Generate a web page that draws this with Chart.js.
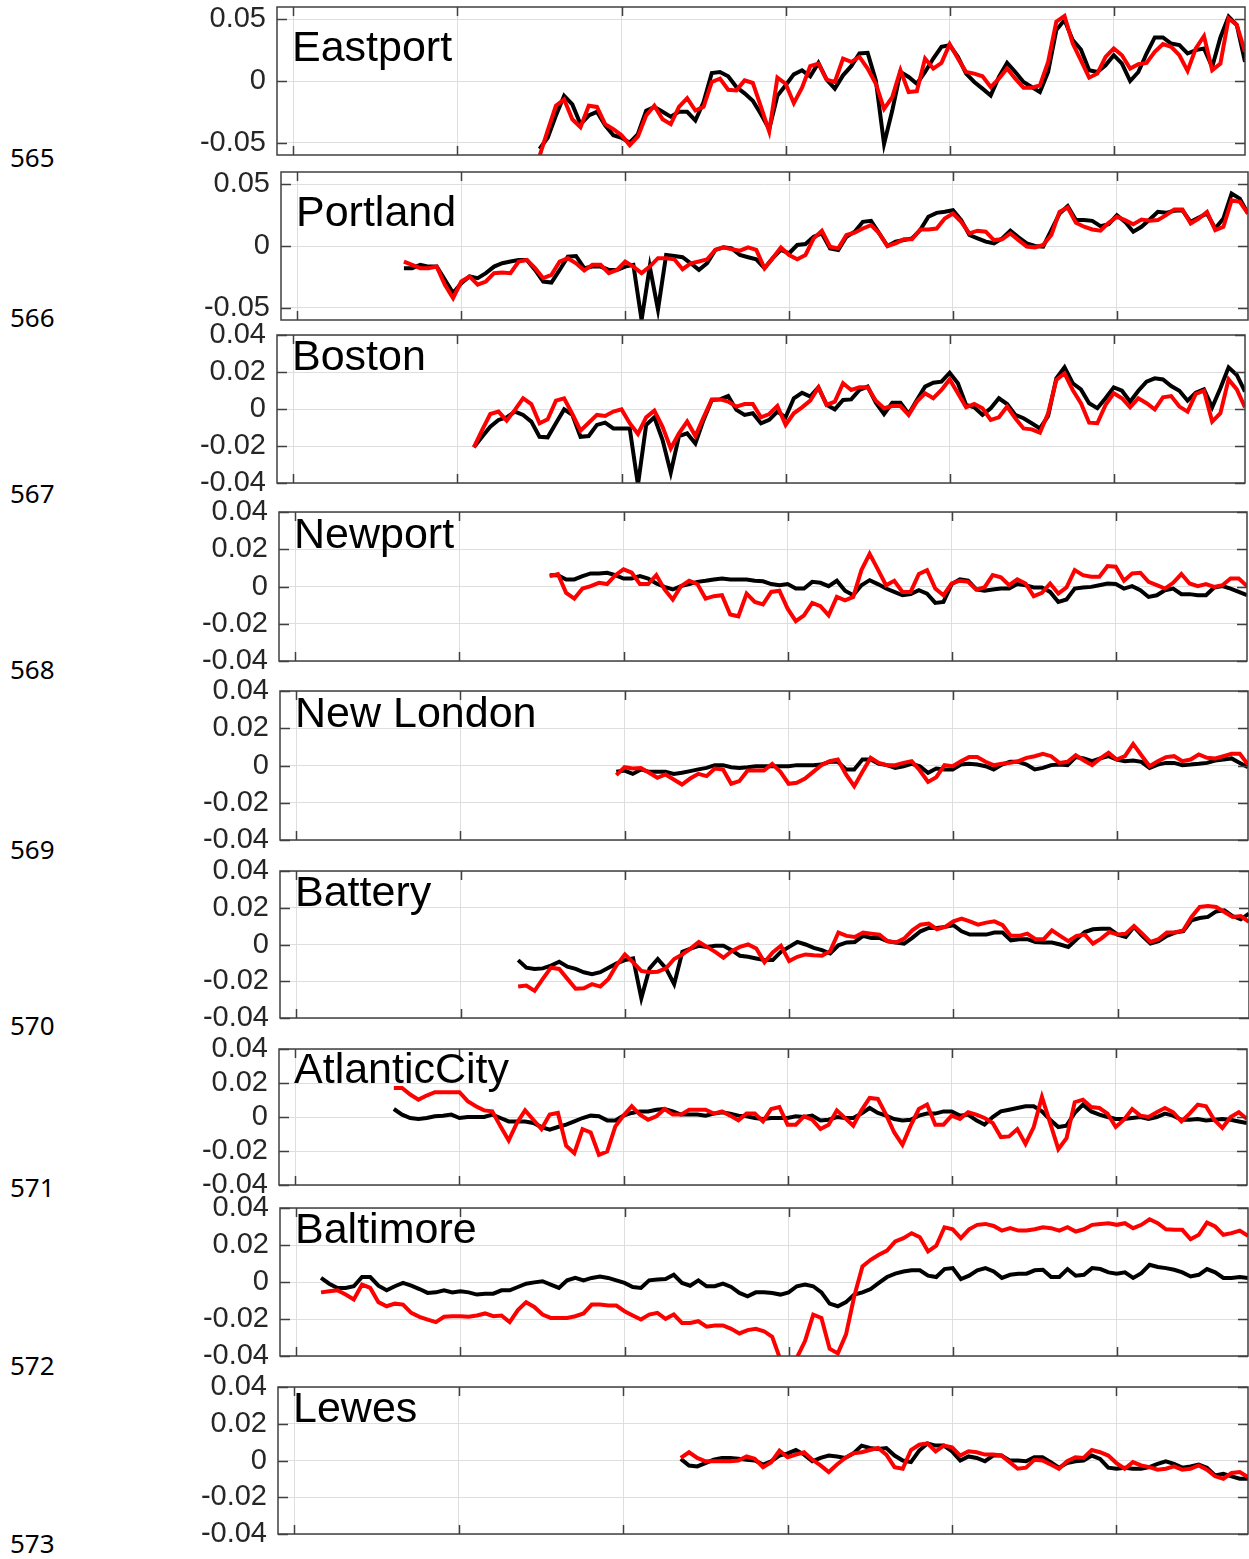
<!DOCTYPE html>
<html>
<head>
<meta charset="utf-8">
<script src="https://cdn.jsdelivr.net/npm/chart.js@4.4.0/dist/chart.umd.min.js"></script>
<style>
  html, body { margin: 0; padding: 0; background: #fff; }
  #page { position: relative; width: 1249px; height: 1559px; overflow: hidden; background: #fff; }
  .lineno { position: absolute; left: 10px; font: 26px "Noto Sans", "Open Sans", sans-serif; line-height: 26px; color: #000; }
</style>
</head>
<body>
<div id="page"></div>
<script>
// Axis ticks and grid
const xGridYears = [1900, 1920, 1940, 1960, 1980, 2000];
const ticksWide = [-0.05, 0, 0.05];
const ticksNarrow = [-0.04, -0.02, 0, 0.02, 0.04];

// Stations, top to bottom
const stationNames = ['Eastport', 'Portland', 'Boston', 'Newport', 'New London', 'Battery', 'AtlanticCity', 'Baltimore', 'Lewes'];
const startYears = [1930, 1913, 1922, 1931, 1939, 1927, 1912, 1903, 1947];
const lineNumbers = ['565', '566', '567', '568', '569', '570', '571', '572', '573'];

// Yearly values (black = first estimate, red = second estimate)
const eastportBlack = [-0.055, -0.046, -0.028, -0.012, -0.019, -0.035, -0.028, -0.025, -0.036, -0.044, -0.046, -0.050, -0.043, -0.024, -0.021, -0.025, -0.029, -0.025, -0.025, -0.032, -0.017, 0.0065, 0.0073, 0.0038, -0.0049, -0.010, -0.016, -0.027, -0.039, -0.012, -0.0035, 0.0054, 0.0087, 0.0038, 0.0147, 0.0011, -0.0062, 0.0046, 0.012, 0.0223, 0.0228, 0.0005, -0.051, -0.024, 0.0073, 0.0033, -0.0022, 0.0073, 0.0182, 0.0277, 0.0291, 0.0196, 0.006, -0.0008, -0.0062, -0.0117, 0.0033, 0.0147, 0.0073, -0.0008, -0.0049, -0.009, 0.0073, 0.0413, 0.0494, 0.0331, 0.0255, 0.0087, 0.0073, 0.0128, 0.0209, 0.0141, 0.0, 0.0073, 0.0223, 0.0353, 0.0353, 0.0304, 0.0291, 0.0223, 0.025, 0.0264, 0.0114, 0.0353, 0.0522, 0.0454, 0.0155];
const eastportRed = [-0.061, -0.040, -0.020, -0.015, -0.031, -0.0375, -0.020, -0.021, -0.035, -0.039, -0.044, -0.052, -0.045, -0.028, -0.020, -0.031, -0.035, -0.021, -0.014, -0.024, -0.021, -0.0008, 0.0019, -0.0071, -0.0076, 0.0005, -0.0016, -0.021, -0.041, 0.0027, -0.0022, -0.018, -0.0054, 0.012, 0.0141, 0.0011, -0.0008, 0.0182, 0.0155, 0.0196, 0.0101, -0.0022, -0.0226, -0.013, 0.0087, -0.009, -0.0082, 0.0182, 0.0101, 0.0147, 0.0299, 0.0182, 0.0073, 0.006, 0.0038, -0.0049, 0.0019, 0.0101, 0.0019, -0.0054, -0.0054, -0.0035, 0.0155, 0.0481, 0.0527, 0.0304, 0.0168, 0.0027, 0.006, 0.0196, 0.0264, 0.0209, 0.0101, 0.0136, 0.0147, 0.0236, 0.0299, 0.0277, 0.0209, 0.0082, 0.0264, 0.0364, 0.0087, 0.0141, 0.0508, 0.0454, 0.0236];

const portlandBlack = [-0.018, -0.018, -0.0153, -0.0167, -0.0167, -0.0274, -0.0382, -0.0301, -0.0247, -0.0261, -0.022, -0.0167, -0.014, -0.0126, -0.0113, -0.0113, -0.0194, -0.0288, -0.0296, -0.0194, -0.0086, -0.0081, -0.018, -0.0167, -0.0167, -0.0194, -0.0194, -0.0167, -0.0153, -0.060, -0.0167, -0.0516, -0.0073, -0.0081, -0.0091, -0.014, -0.0194, -0.014, -0.0032, -0.0011, -0.0019, -0.0073, -0.0091, -0.0108, -0.018, -0.0099, -0.0032, -0.0059, 0.0008, 0.0016, 0.0075, 0.0102, -0.0019, -0.0032, 0.0075, 0.0116, 0.0196, 0.0204, 0.0102, 0, 0.0035, 0.0048, 0.0062, 0.0129, 0.0237, 0.0269, 0.0277, 0.029, 0.021, 0.0089, 0.0062, 0.0035, 0.0022, 0.0062, 0.0124, 0.007, 0.0022, 0, -0.0005, 0.0129, 0.0263, 0.0323, 0.021, 0.021, 0.0204, 0.0161, 0.0177, 0.025, 0.0196, 0.0116, 0.0156, 0.0215, 0.0277, 0.0269, 0.0285, 0.029, 0.0196, 0.0231, 0.0263, 0.0142, 0.0223, 0.0425, 0.0384, 0.0263];
const portlandRed = [-0.0126, -0.0153, -0.018, -0.018, -0.0167, -0.0314, -0.0422, -0.0288, -0.0247, -0.0314, -0.0288, -0.022, -0.0215, -0.022, -0.0126, -0.0113, -0.018, -0.0261, -0.0234, -0.0126, -0.0099, -0.014, -0.0199, -0.0153, -0.0153, -0.022, -0.0194, -0.0126, -0.0167, -0.022, -0.0167, -0.0099, -0.0099, -0.0108, -0.0188, -0.014, -0.0126, -0.0108, -0.0032, -0.0011, -0.0027, -0.0038, -0.0011, -0.0032, -0.018, -0.0099, -0.0011, -0.0073, -0.0108, -0.0073, 0.0062, 0.0124, -0.0005, -0.0019, 0.0089, 0.0108, 0.0142, 0.0169, 0.0102, 0, 0.0022, 0.0054, 0.0054, 0.0134, 0.0134, 0.0142, 0.0223, 0.0263, 0.0196, 0.0102, 0.0124, 0.0116, 0.0048, 0.0054, 0.0102, 0.0048, -0.0005, -0.0011, 0.0008, 0.0089, 0.0277, 0.0312, 0.0188, 0.0156, 0.0134, 0.0124, 0.0188, 0.0237, 0.021, 0.0177, 0.0215, 0.0204, 0.021, 0.025, 0.0296, 0.0296, 0.0183, 0.0223, 0.0277, 0.0129, 0.0156, 0.0371, 0.0358, 0.0263];

const bostonBlack = [-0.0207, -0.015, -0.0096, -0.0059, -0.0045, -0.0014, -0.0032, -0.0068, -0.015, -0.0153, -0.0077, -0.0002, -0.0032, -0.015, -0.0146, -0.0086, -0.0074, -0.0105, -0.0105, -0.0105, -0.041, -0.0086, -0.0045, -0.0168, -0.0344, -0.0146, -0.0132, -0.0186, -0.0059, 0.0049, 0.0052, 0.007, -0.0005, -0.0032, -0.0023, -0.0077, -0.0059, -0.0014, -0.0045, 0.0058, 0.0088, 0.0067, 0.0117, 0.0022, -0.0002, 0.0049, 0.0052, 0.0103, 0.0121, 0.0034, -0.0027, 0.0034, 0.0034, -0.0027, 0.0049, 0.0121, 0.0142, 0.0148, 0.0196, 0.0139, 0.0022, 0.0009, -0.0032, 0.0004, 0.0058, 0.0027, -0.0032, -0.005, -0.0077, -0.0105, -0.0038, 0.0166, 0.0225, 0.0139, 0.0106, 0.0031, 0.0004, 0.0058, 0.0117, 0.0099, 0.004, 0.0099, 0.0148, 0.0166, 0.016, 0.0124, 0.0099, 0.0045, 0.0088, 0.0106, 0.0009, 0.0112, 0.0225, 0.0184, 0.0094];
const bostonRed = [-0.0207, -0.0114, -0.0027, -0.0014, -0.0063, -0.0005, 0.0058, 0.0027, -0.0077, -0.0056, 0.0045, 0.0058, -0.0027, -0.0117, -0.0074, -0.0032, -0.0038, -0.0014, -0.0002, -0.0077, -0.0135, -0.0045, -0.0009, -0.0096, -0.0213, -0.0132, -0.0068, -0.0146, -0.0045, 0.0052, 0.0052, 0.004, 0.0013, 0.0027, 0.0027, -0.0045, -0.0027, 0.0016, -0.0086, -0.0023, 0.0009, 0.0045, 0.0117, 0.0022, 0.004, 0.0139, 0.0103, 0.0117, 0.0117, 0.0045, 0.0004, 0.0016, 0.0016, -0.0032, 0.004, 0.0085, 0.0058, 0.0103, 0.016, 0.0085, 0.0009, 0.0027, 0.0004, -0.0059, -0.0045, 0.0013, -0.005, -0.0105, -0.011, -0.0128, -0.0023, 0.0157, 0.0193, 0.0103, 0.0031, -0.0074, -0.0077, 0.0022, 0.0085, 0.0058, 0.0009, 0.0058, 0.0031, -0.0002, 0.0063, 0.007, 0.0013, -0.0014, 0.0081, 0.0099, -0.0068, -0.0023, 0.016, 0.0106, 0.0009];

const newportBlack = [0.0061, 0.0061, 0.0038, 0.0038, 0.0056, 0.007, 0.007, 0.0074, 0.0061, 0.0043, 0.0043, 0.0056, 0.0043, 0.0016, -0.0002, -0.0016, 0.0002, 0.0013, 0.0025, 0.0031, 0.0038, 0.0043, 0.0038, 0.0038, 0.0038, 0.0031, 0.0028, 0.0013, 0.0007, 0.0013, -0.0011, -0.0011, 0.0025, 0.002, 0.0002, 0.0031, -0.0023, -0.0047, 0.0007, 0.0034, 0.0013, -0.0011, -0.0029, -0.0047, -0.0041, -0.002, -0.0038, -0.0088, -0.0083, 0.0013, 0.0038, 0.0031, -0.0016, -0.0023, -0.0016, -0.0011, -0.0011, 0.0013, 0.0007, -0.0005, -0.0005, -0.0029, -0.0083, -0.007, -0.0011, -0.0005, -0.0002, 0.0007, 0.0016, 0.0013, -0.0011, 0.0002, -0.002, -0.0056, -0.0047, -0.002, -0.0011, -0.0041, -0.0041, -0.0047, -0.0047, -0.0005, 0.0002, -0.0011, -0.0029, -0.0047];
const newportRed = [0.0056, 0.0067, -0.0034, -0.0065, -0.0011, 0.0002, 0.002, 0.0013, 0.0061, 0.0092, 0.0074, 0.0013, 0.0013, 0.0061, -0.0016, -0.007, 0.0002, 0.0031, 0.0013, -0.0065, -0.0052, -0.0047, -0.015, -0.016, -0.0038, -0.0083, -0.0096, -0.0029, -0.0023, -0.0119, -0.0186, -0.0155, -0.0088, -0.0106, -0.0155, -0.0056, -0.0074, -0.0056, 0.0088, 0.0175, 0.0092, 0.0007, 0.0031, -0.0029, -0.0029, 0.0067, 0.0088, -0.0011, -0.0047, 0.0016, 0.0031, 0.0025, -0.0016, -0.0005, 0.0061, 0.0049, 0.0007, 0.0038, 0.0016, -0.0052, -0.0034, 0.0016, -0.0038, -0.0005, 0.0088, 0.0061, 0.0052, 0.0052, 0.011, 0.0106, 0.0031, 0.007, 0.0074, 0.0025, 0.0007, -0.0011, 0.002, 0.0067, 0.0016, 0.0002, 0.0013, -0.0002, 0.0007, 0.0043, 0.0043, 0.0002];

const newLondonBlack = [-0.0034, -0.0027, -0.0045, -0.0021, -0.0034, -0.0034, -0.0034, -0.0045, -0.0039, -0.003, -0.0021, -0.0013, 0.0002, 0.0002, -0.0009, -0.0013, -0.0009, -0.0004, -0.0004, -0.0004, -0.0004, -0.0004, 0.0002, 0.0002, 0.0002, 0.0005, 0.002, 0.002, -0.0021, -0.0021, 0.0032, 0.0032, 0.0009, 0.0002, -0.0013, -0.0004, 0.0009, -0.0004, -0.0039, -0.0016, -0.0021, -0.0021, 0.0005, 0.0009, 0.0005, -0.0004, -0.0021, 0.0005, 0.002, 0.002, 0.0005, -0.0021, -0.0013, 0.0002, 0.0005, 0.0002, 0.0045, 0.0038, 0.0023, 0.0038, 0.005, 0.0032, 0.0023, 0.0027, 0.002, -0.0013, 0.0005, 0.0014, 0.0014, 0.0002, 0.0005, 0.0009, 0.0014, 0.0027, 0.0032, 0.0038, 0.0014, -0.0009];
const newLondonRed = [-0.0052, -0.0009, -0.0016, -0.0013, -0.0039, -0.0066, -0.0048, -0.0075, -0.0102, -0.007, -0.0045, -0.0057, -0.0016, -0.0021, -0.0098, -0.0084, -0.0027, -0.0027, -0.0027, 0.0009, -0.0034, -0.0098, -0.0093, -0.007, -0.0034, 0.0002, 0.0023, 0.0032, -0.0048, -0.0111, -0.0034, 0.0041, 0.0014, 0.0002, 0.0002, 0.0014, 0.0023, -0.0027, -0.0088, -0.0063, 0.0002, -0.0004, 0.0023, 0.0045, 0.0045, 0.002, 0.0002, 0.0009, 0.0014, 0.0023, 0.0041, 0.005, 0.0063, 0.005, 0.0014, 0.002, 0.0055, 0.0027, 0.0002, 0.0038, 0.0068, 0.0032, 0.005, 0.0116, 0.0055, -0.0004, 0.0023, 0.0045, 0.005, 0.0023, 0.0032, 0.0059, 0.0041, 0.0038, 0.005, 0.0063, 0.0063, 0.0005];

const batteryBlack = [-0.0085, -0.0126, -0.0133, -0.013, -0.0115, -0.0094, -0.0121, -0.0133, -0.0151, -0.0162, -0.0151, -0.0126, -0.0103, -0.0085, -0.0076, -0.0292, -0.013, -0.0079, -0.013, -0.0216, -0.004, -0.0022, -0.0007, -0.0013, -0.0007, -0.0007, -0.0031, -0.0061, -0.0067, -0.0076, -0.0085, -0.0085, -0.004, -0.0013, 0.0014, 0, -0.0018, -0.0031, -0.0049, -0.0004, 0.0011, 0.0014, 0.0047, 0.0036, 0.0036, 0.0018, 0.0011, 0.0005, 0.0036, 0.0072, 0.009, 0.009, 0.0096, 0.0105, 0.0072, 0.0054, 0.0054, 0.0054, 0.0065, 0.0065, 0.0023, 0.0029, 0.0029, 0.0014, 0.0011, 0.0011, 0, -0.0013, 0.0029, 0.0068, 0.0083, 0.0086, 0.0086, 0.0054, 0.0041, 0.0096, 0.0047, 0.0005, 0.0018, 0.0047, 0.0065, 0.0072, 0.0132, 0.0144, 0.015, 0.018, 0.0186, 0.0155, 0.0137, 0.0168];
const batteryRed = [-0.0229, -0.0223, -0.0252, -0.0187, -0.0126, -0.0133, -0.0187, -0.0241, -0.0238, -0.0216, -0.0229, -0.0187, -0.0112, -0.0054, -0.0097, -0.0144, -0.0151, -0.0148, -0.013, -0.0079, -0.0054, -0.0022, 0.0014, -0.0013, -0.004, -0.0072, -0.0036, -0.0013, 0, -0.0022, -0.0097, -0.0043, -0.0007, -0.009, -0.0067, -0.0054, -0.0058, -0.0061, -0.0036, 0.0065, 0.0047, 0.0041, 0.0065, 0.0059, 0.0054, 0.0018, 0.0011, 0.0032, 0.0077, 0.0108, 0.0114, 0.0083, 0.0096, 0.0126, 0.0141, 0.0126, 0.0108, 0.0119, 0.0126, 0.0105, 0.0047, 0.0047, 0.0059, 0.0029, 0.0029, 0.0077, 0.0047, 0.0018, 0.0047, 0.0054, 0.0005, 0.0032, 0.0068, 0.0054, 0.0059, 0.0101, 0.0059, 0.0014, 0.0029, 0.0065, 0.0065, 0.0077, 0.015, 0.0204, 0.0209, 0.0204, 0.0177, 0.015, 0.0155, 0.0123];

const atlanticCityBlack = [0.0047, 0.0014, -0.0006, -0.0012, -0.0006, 0.0004, 0.0008, 0.0014, -0.0006, 0, 0, 0, 0.0014, -0.0006, -0.0026, -0.0026, -0.0026, -0.0035, -0.0059, -0.0075, -0.0059, -0.0045, -0.0026, -0.0006, 0.0008, 0.0004, -0.002, -0.002, 0.0008, 0.0024, 0.0033, 0.0033, 0.0043, 0.0047, 0.0033, 0.0014, 0.0014, 0.0014, 0.0008, 0.002, 0.0028, 0.002, 0.0008, 0.0004, -0.0006, -0.0012, -0.0006, -0.0006, -0.0006, 0.0004, 0, 0.0008, -0.002, -0.0016, 0, -0.0006, -0.0006, 0.002, 0.0053, 0.0024, 0.0008, -0.0012, -0.002, -0.0016, 0.0008, 0.002, 0.002, 0.0033, 0.0033, 0.0008, 0.0014, -0.002, -0.0045, 0, 0.0033, 0.0043, 0.0053, 0.0063, 0.0063, 0.0033, -0.0016, -0.0059, -0.0051, 0.0024, 0.0073, 0.0033, 0.0014, 0, -0.0012, -0.0012, -0.0006, 0, -0.0012, 0, 0.002, 0.0008, -0.0016, -0.0016, -0.0012, -0.002, -0.0016, -0.0012, -0.0016, -0.0026, -0.0035];
const atlanticCityRed = [0.0171, 0.0171, 0.0132, 0.0102, 0.0126, 0.0146, 0.0146, 0.0146, 0.0146, 0.0093, 0.0063, 0.0039, 0.0033, -0.0055, -0.0138, -0.0035, 0.0039, -0.0016, -0.0071, 0.0014, 0.0024, -0.0169, -0.0213, -0.0071, -0.0091, -0.0223, -0.0203, -0.0055, 0.0008, 0.0063, 0.0014, -0.0016, 0.0004, 0.0047, 0.0014, 0.0014, 0.0043, 0.0043, 0.0043, 0.002, 0.0033, 0.0008, -0.002, 0.002, 0.002, -0.0026, 0.0047, 0.0059, -0.0045, -0.0045, 0.0004, -0.0016, -0.0071, -0.0045, 0.0039, -0.0006, -0.0051, 0.0039, 0.0112, 0.0106, 0.0014, -0.0091, -0.0164, -0.0051, 0.0047, 0.0073, -0.0045, -0.0045, 0.0008, -0.0012, 0.0028, 0.0014, -0.0006, -0.0035, -0.0118, -0.0114, -0.0071, -0.0158, -0.0059, 0.0118, -0.0035, -0.0189, -0.0124, 0.0087, 0.0102, 0.0059, 0.0053, 0.002, -0.0059, -0.0016, 0.0047, 0.0008, 0, 0.0028, 0.0053, 0.0028, -0.0026, 0.002, 0.0073, 0.0063, -0.0016, -0.0065, 0, 0.0028, -0.0012];

const baltimoreBlack = [0.0022, -0.0009, -0.0032, -0.0032, -0.0023, 0.0027, 0.0027, -0.002, -0.0045, -0.0023, -0.0005, -0.002, -0.0038, -0.0059, -0.0056, -0.0045, -0.0056, -0.005, -0.0056, -0.0068, -0.0063, -0.0063, -0.0045, -0.0045, -0.0027, -0.0009, -0.0002, 0.0004, -0.0014, -0.0032, 0.0009, 0.0022, 0.0009, 0.0022, 0.003, 0.0022, 0.0009, -0.0005, -0.0027, -0.0032, 0.0009, 0.0013, 0.0016, 0.0039, -0.0005, -0.002, 0.0009, -0.0023, -0.0023, -0.0009, -0.0027, -0.0059, -0.0077, -0.0056, -0.0056, -0.0059, -0.0068, -0.0056, -0.0023, -0.0014, -0.0023, -0.0056, -0.0117, -0.0131, -0.0109, -0.0068, -0.0056, -0.0038, -0.0005, 0.0027, 0.0045, 0.0057, 0.0063, 0.0063, 0.0034, 0.0027, 0.007, 0.0075, 0.0016, 0.0034, 0.0063, 0.0075, 0.0057, 0.0022, 0.0039, 0.0045, 0.0045, 0.0063, 0.0066, 0.0027, 0.0027, 0.007, 0.0034, 0.0039, 0.0075, 0.007, 0.0052, 0.0045, 0.0052, 0.0022, 0.0048, 0.0093, 0.0081, 0.0075, 0.0066, 0.0052, 0.003, 0.0039, 0.007, 0.0052, 0.0022, 0.0022, 0.0027, 0.0022];
const baltimoreRed = [-0.0056, -0.005, -0.0045, -0.0068, -0.0095, -0.0014, -0.0032, -0.0109, -0.0131, -0.0117, -0.0122, -0.0167, -0.0188, -0.0203, -0.0217, -0.0188, -0.0185, -0.0185, -0.0188, -0.0181, -0.017, -0.0185, -0.0181, -0.0217, -0.0152, -0.0109, -0.0135, -0.0176, -0.0194, -0.0194, -0.0194, -0.0185, -0.017, -0.0122, -0.0122, -0.0127, -0.0127, -0.0158, -0.0181, -0.0203, -0.0176, -0.0167, -0.0199, -0.0176, -0.0221, -0.0221, -0.0212, -0.0242, -0.0235, -0.0235, -0.0253, -0.0278, -0.026, -0.0253, -0.0266, -0.0296, -0.042, -0.05, -0.041, -0.0319, -0.0176, -0.0194, -0.0361, -0.0386, -0.0283, -0.0077, 0.0084, 0.012, 0.0147, 0.017, 0.0219, 0.0237, 0.0264, 0.0242, 0.0165, 0.0196, 0.0296, 0.0285, 0.0237, 0.0285, 0.0309, 0.0314, 0.0303, 0.0278, 0.0291, 0.0278, 0.0278, 0.0285, 0.0296, 0.0291, 0.0278, 0.0296, 0.0273, 0.0285, 0.0309, 0.0314, 0.0318, 0.0309, 0.0318, 0.0291, 0.0309, 0.0339, 0.0318, 0.0285, 0.0282, 0.0282, 0.0231, 0.0255, 0.0321, 0.03, 0.0255, 0.0264, 0.0278, 0.0249];

const lewesBlack = [0.0009, -0.0027, -0.0032, -0.0014, 0.0004, 0.0014, 0.0014, 0.0009, 0.0004, 0, -0.0022, -0.0004, 0.0027, 0.0039, 0.0057, 0.0032, -0.0004, 0.0014, 0.0027, 0.0022, 0.0014, 0.0039, 0.0081, 0.0068, 0.0063, 0.0068, 0.0027, 0, -0.0009, 0.0054, 0.0093, 0.0081, 0.0081, 0.005, 0, 0.0022, 0.0014, -0.0004, 0.0027, 0.0027, 0, 0, -0.0004, 0.0018, 0.0018, -0.0009, -0.0039, -0.0014, -0.0004, 0, 0.0027, 0.0009, -0.0039, -0.0045, -0.0039, -0.0045, -0.0045, -0.0036, -0.0018, -0.0004, -0.0018, -0.0039, -0.0032, -0.0022, -0.0039, -0.0081, -0.0072, -0.0086, -0.0099, -0.0099];
const lewesRed = [0.0014, 0.0045, 0.0014, -0.0004, -0.0004, -0.0004, -0.0004, 0, 0.0022, 0.0009, -0.0036, -0.0009, 0.0054, 0.0018, 0.0032, 0.0045, 0.0004, -0.0027, -0.0063, -0.0022, 0.0014, 0.0039, 0.0045, 0.0057, 0.0068, 0.0032, -0.0036, -0.0045, 0.0057, 0.0086, 0.0093, 0.005, 0.0081, 0.0072, 0.0027, 0.005, 0.0045, 0.0032, 0.0032, 0.0027, -0.0009, -0.0045, -0.0039, 0.0004, 0, -0.0022, -0.0045, -0.0004, 0.0018, 0.0014, 0.0057, 0.0045, 0.0027, -0.0014, -0.0045, -0.0009, -0.0027, -0.0036, -0.005, -0.0045, -0.0032, -0.005, -0.0045, -0.0027, -0.005, -0.0086, -0.0099, -0.0068, -0.0063, -0.009];

const blackSeries = [eastportBlack, portlandBlack, bostonBlack, newportBlack, newLondonBlack, batteryBlack, atlanticCityBlack, baltimoreBlack, lewesBlack];
const redSeries = [eastportRed, portlandRed, bostonRed, newportRed, newLondonRed, batteryRed, atlanticCityRed, baltimoreRed, lewesRed];

// Page layout of each axes box (pixels) and title offset from box top
const panelBoxes = [
    { l: 277, t: 7,    w: 968, h: 148, titleDy: 54 },
    { l: 281, t: 172,  w: 967, h: 148, titleDy: 54 },
    { l: 277, t: 335,  w: 968, h: 148, titleDy: 35 },
    { l: 279, t: 512,  w: 968, h: 149, titleDy: 35.5 },
    { l: 280, t: 691,  w: 968, h: 149, titleDy: 35.5 },
    { l: 280, t: 871,  w: 969, h: 147, titleDy: 35 },
    { l: 279, t: 1049, w: 968, h: 136, titleDy: 33.5 },
    { l: 280, t: 1208, w: 968, h: 148, titleDy: 35 },
    { l: 278, t: 1387, w: 970, h: 147, titleDy: 35 }
];
const lineNumberY = [157, 317, 493, 669, 849, 1025, 1187, 1365, 1543];

const LABEL_W = 110;
const PAD_T = 34;   // must exceed half a tick label + tick padding
const PAD_R = 6;
const gridColor = '#dedede';
const axisColor = '#404040';
const tickFont = '"Liberation Sans", Arial, sans-serif';

// Box, inward ticks and station name, drawn on top like MATLAB axes
const axesBoxPlugin = {
    id: 'axesBox',
    afterDatasetsDraw(chart, args, opts) {
        const { ctx, chartArea: a } = chart;
        const xs = chart.scales.x, ys = chart.scales.y;
        ctx.save();
        ctx.strokeStyle = axisColor;
        ctx.lineWidth = 1.5;
        ctx.beginPath();
        xGridYears.forEach(yr => {
            const px = Math.round(xs.getPixelForValue(yr)) + 0.5;
            ctx.moveTo(px, a.top); ctx.lineTo(px, a.top + 9);
            ctx.moveTo(px, a.bottom); ctx.lineTo(px, a.bottom - 9);
        });
        ys.ticks.forEach(t => {
            const py = Math.round(ys.getPixelForValue(t.value)) + 0.5;
            ctx.moveTo(a.left, py); ctx.lineTo(a.left + 10, py);
            ctx.moveTo(a.right, py); ctx.lineTo(a.right - 10, py);
        });
        ctx.stroke();
        ctx.strokeRect(a.left, a.top, a.right - a.left, a.bottom - a.top);
        ctx.fillStyle = '#000';
        ctx.font = '43px "Liberation Sans", Arial, sans-serif';
        ctx.textBaseline = 'alphabetic';
        ctx.textAlign = 'left';
        ctx.fillText(opts.title, a.left + 15, a.top + opts.titleDy);
        ctx.restore();
    }
};

function toPoints(values, start) {
    return values.map((v, i) => ({ x: start + i, y: v }));
}

function makePanel(i) {
    const box = panelBoxes[i];
    const wide = i < 2;
    const yTicks = wide ? ticksWide : ticksNarrow;
    const canvas = document.createElement('canvas');
    const cw = LABEL_W + box.w + PAD_R;
    const ch = box.h + PAD_T * 2;
    canvas.width = cw;
    canvas.height = ch;
    canvas.style.cssText = `position:absolute;left:${box.l - LABEL_W}px;top:${box.t - PAD_T}px;width:${cw}px;height:${ch}px`;
    document.getElementById('page').appendChild(canvas);

    new Chart(canvas.getContext('2d'), {
        type: 'line',
        data: {
            datasets: [{
                data: toPoints(redSeries[i], startYears[i]),
                borderColor: '#ff0000',
                borderWidth: 4,
                pointRadius: 0,
                tension: 0
            }, {
                data: toPoints(blackSeries[i], startYears[i]),
                borderColor: '#000000',
                borderWidth: 4,
                pointRadius: 0,
                tension: 0
            }]
        },
        options: {
            responsive: false,
            animation: false,
            devicePixelRatio: 1,
            layout: { padding: { top: PAD_T, bottom: PAD_T, left: 0, right: PAD_R } },
            plugins: {
                legend: { display: false },
                tooltip: { enabled: false },
                axesBox: { title: stationNames[i], titleDy: box.titleDy }
            },
            scales: {
                x: {
                    type: 'linear',
                    min: 1898,
                    max: 2016,
                    afterBuildTicks: axis => { axis.ticks = xGridYears.map(v => ({ value: v })); },
                    afterFit: axis => { axis.height = 0; },
                    ticks: { display: false },
                    grid: { color: gridColor, lineWidth: 1, drawTicks: false },
                    border: { display: false }
                },
                y: {
                    min: wide ? -0.06 : -0.04,
                    max: wide ? 0.06 : 0.04,
                    afterBuildTicks: axis => { axis.ticks = yTicks.map(v => ({ value: v })); },
                    afterFit: axis => { axis.width = LABEL_W; },
                    ticks: {
                        autoSkip: false,
                        padding: 11,
                        color: '#262626',
                        font: { family: tickFont, size: 29 },
                        callback: v => (Math.abs(v) < 1e-9 ? '0' : v.toFixed(2))
                    },
                    grid: { color: gridColor, lineWidth: 1, drawTicks: false },
                    border: { display: false }
                }
            }
        },
        plugins: [axesBoxPlugin]
    });
}

function addLineNumbers() {
    const page = document.getElementById('page');
    lineNumbers.forEach((label, i) => {
        const div = document.createElement('div');
        div.className = 'lineno';
        div.textContent = label;
        div.style.top = (lineNumberY[i] - 13) + 'px';
        page.appendChild(div);
    });
}

addLineNumbers();
stationNames.forEach((name, i) => makePanel(i));
</script>
</body>
</html>
